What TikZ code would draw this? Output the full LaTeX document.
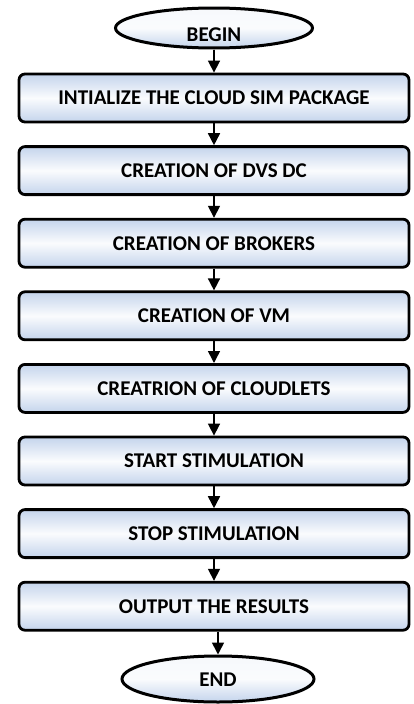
\documentclass[tikz,border=0pt]{standalone}
\usepackage{fontspec}
\setmainfont{Carlito}
\usetikzlibrary{arrows.meta,shapes.geometric}
\definecolor{boxblue}{RGB}{196,212,236}
\tikzset{
  x=1pt, y=-1pt,
  flowbox/.style={draw=black, line width=2.8pt, rounded corners=6pt,
    minimum width=390pt, minimum height=48pt, inner sep=0pt,
    top color=boxblue, bottom color=boxblue, middle color=white!92!boxblue,
    font=\fontsize{21}{22}\selectfont\bfseries},
  terminal/.style={draw=black, ellipse, line width=3pt, inner sep=0pt,
    top color=white!85!boxblue, bottom color=boxblue, middle color=white!92!boxblue},
  termtext/.style={inner sep=0pt, font=\fontsize{21}{22}\selectfont\bfseries},
  flowarrow/.style={draw=black, line width=1.6pt, -{Triangle[width=12pt,length=12pt]}}
}
\begin{document}
\begin{tikzpicture}
\useasboundingbox (0,0) rectangle (413,704);
% start and end terminals
\node[terminal, minimum width=197pt, minimum height=40pt] (begin) at (214,28) {};
\node[termtext] (begintext) at (214,35) {BEGIN};
\node[terminal, minimum width=192pt, minimum height=46pt] (end) at (218,679) {};
\node[termtext] (endtext) at (218,680) {END};
% process steps
\node[flowbox] (b1) at (214,98.0) {INTIALIZE THE CLOUD SIM PACKAGE};
\node[flowbox] (b2) at (214,170.6) {CREATION OF DVS DC};
\node[flowbox] (b3) at (214,243.2) {CREATION OF BROKERS};
\node[flowbox] (b4) at (214,315.8) {CREATION OF VM};
\node[flowbox] (b5) at (214,388.4) {CREATRION OF CLOUDLETS};
\node[flowbox] (b6) at (214,461.0) {START STIMULATION};
\node[flowbox] (b7) at (214,533.6) {STOP STIMULATION};
\node[flowbox] (b8) at (214,606.2) {OUTPUT THE RESULTS};
% connectors
\draw[flowarrow] (begin.south) -- (b1.north);
\draw[flowarrow] (b1) -- (b2);
\draw[flowarrow] (b2) -- (b3);
\draw[flowarrow] (b3) -- (b4);
\draw[flowarrow] (b4) -- (b5);
\draw[flowarrow] (b5) -- (b6);
\draw[flowarrow] (b6) -- (b7);
\draw[flowarrow] (b7) -- (b8);
\draw[flowarrow] (b8.south -| end.north) -- (end.north);
\end{tikzpicture}
\end{document}
